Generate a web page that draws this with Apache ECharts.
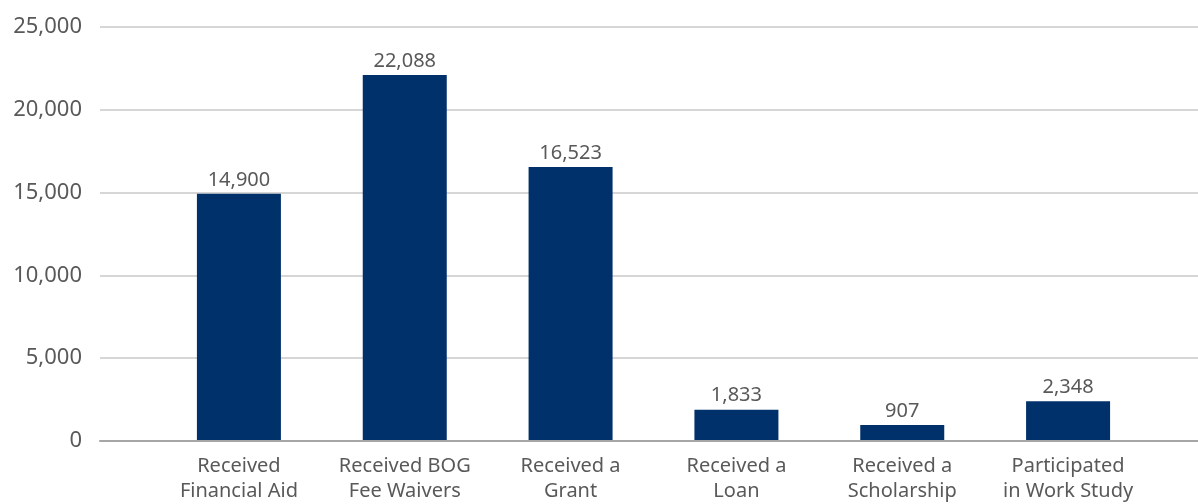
<!DOCTYPE html>
<html>
<head>
<meta charset="utf-8">
<script src="https://cdn.jsdelivr.net/npm/echarts@6/dist/echarts.min.js"></script>
<style>
  html, body { margin: 0; padding: 0; background: #fff; }
  #main { width: 1198px; height: 504px; }
</style>
</head>
<body>
<div id="main"></div>
<script>
// categories and counts
var categories = [
    'Received\nFinancial Aid',
    'Received BOG\nFee Waivers',
    'Received a\nGrant',
    'Received a\nLoan',
    'Received a\nScholarship',
    'Participated\nin Work Study'
];
var counts = [14900, 22088, 16523, 1833, 907, 2348];
var yMin = 0, yMax = 25000, yStep = 5000;

var textColor = '#595959';
var fontName = 'Noto Sans';

var myChart = echarts.init(document.getElementById('main'));

var option = {
    backgroundColor: '#fff',
    animation: false,
    textStyle: { fontFamily: fontName },
    grid: [
        // wide grid: gridlines + y labels
        { left: 100, right: 0, top: 27, bottom: 63 },
        // narrower grid holding the bars
        { left: 156, right: 47, top: 27, bottom: 63 }
    ],
    xAxis: [
        {
            gridIndex: 0,
            type: 'value',
            min: 0, max: 1,
            axisLine: { show: true, onZero: false, lineStyle: { color: '#a6a6a6', width: 2 } },
            axisTick: { show: false },
            axisLabel: { show: false },
            splitLine: { show: false }
        },
        {
            gridIndex: 1,
            type: 'category',
            data: categories,
            axisLine: { show: false },
            axisTick: { show: false },
            axisLabel: {
                interval: 0,
                color: textColor,
                fontSize: 20,
                lineHeight: 25,
                margin: 14,
                fontFamily: fontName
            }
        }
    ],
    yAxis: [
        {
            gridIndex: 0,
            type: 'value',
            min: yMin, max: yMax, interval: yStep,
            axisLine: { show: false },
            axisTick: { show: false },
            axisLabel: {
                color: textColor,
                fontSize: 22,
                margin: 18,
                fontFamily: fontName,
                formatter: function (v) { return v.toLocaleString('en-US'); }
            },
            splitLine: { lineStyle: { color: '#c8c8c8', width: 1.5 } }
        },
        {
            gridIndex: 1,
            type: 'value',
            min: yMin, max: yMax, interval: yStep,
            show: false,
            splitLine: { show: false }
        }
    ],
    series: [
        {
            type: 'bar',
            xAxisIndex: 1,
            yAxisIndex: 1,
            data: counts,
            barWidth: 84,
            itemStyle: { color: '#00316a' },
            label: {
                show: true,
                position: 'top',
                distance: 4,
                color: textColor,
                fontSize: 20,
                fontFamily: fontName,
                formatter: function (p) { return p.value.toLocaleString('en-US'); }
            }
        }
    ]
};

myChart.setOption(option);
</script>
</body>
</html>
